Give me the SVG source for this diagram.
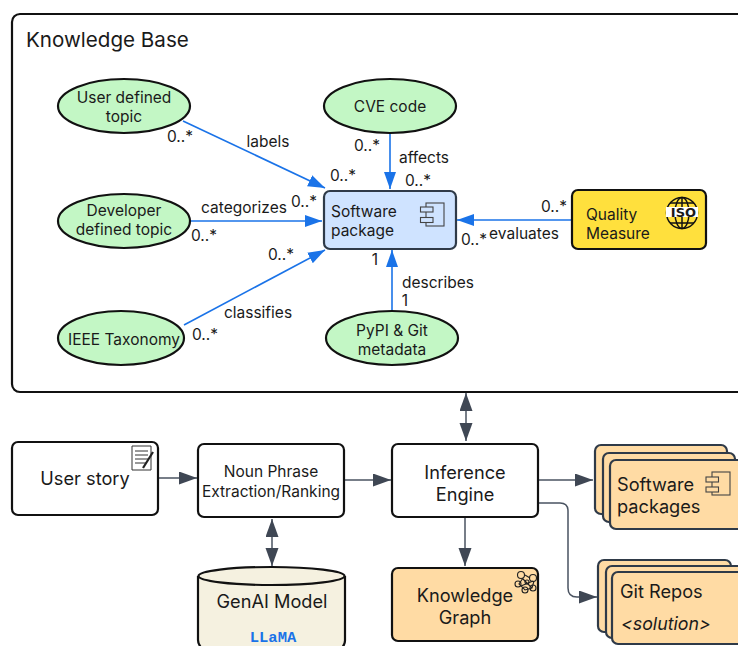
<svg xmlns="http://www.w3.org/2000/svg" width="738" height="646" viewBox="0 0 738 646">
<style>
text{font-family:Inter,"Liberation Sans",sans-serif;fill:#1a1a1a}
.m{text-anchor:middle}
.l{font-size:15.500px}
.n{font-size:15.500px}
.big{font-size:18.200px}
.box{stroke:#111;stroke-width:2.200px}
.ell{fill:#c3f7c5;stroke:#111;stroke-width:2.200px}
.b{fill:none;stroke:#1a73e8;stroke-width:1.600px}
.d{fill:none;stroke:#4a5361;stroke-width:1.500px}
.o{fill:#ffdba4;stroke:#2f3a48;stroke-width:2.200px}
.ic{fill:none;stroke:#444;stroke-width:1.100px}
</style>
<defs>
<marker id="ab" markerUnits="userSpaceOnUse" markerWidth="19" markerHeight="14" refX="17" refY="6" orient="auto-start-reverse"><path d="M0 0L17 6L0 12z" fill="#1a73e8"/></marker>
<marker id="ad" markerUnits="userSpaceOnUse" markerWidth="20" markerHeight="14" refX="18" refY="6.500" orient="auto-start-reverse"><path d="M0 0L18 6.500L0 13z" fill="#3f4754"/></marker>
</defs>
<g id="knowledge-base"><rect x="12" y="14" width="740" height="378" rx="8" fill="#fff" stroke="#111" stroke-width="2.200"/><text x="26" y="47" font-size="20.600">Knowledge Base</text></g>
<g id="connectors">
<path class="b" marker-end="url(#ab)" d="M183 121L325 188"/>
<path class="b" marker-end="url(#ab)" d="M190 221L322 221"/>
<path class="b" marker-end="url(#ab)" d="M184 325L325 250"/>
<path class="b" marker-end="url(#ab)" d="M390 133L390 189"/>
<path class="b" marker-end="url(#ab)" d="M392 310L392 250"/>
<path class="b" marker-end="url(#ab)" d="M571 220L457 220"/>
<path class="d" marker-end="url(#ad)" d="M159 478L197 478"/>
<path class="d" marker-end="url(#ad)" d="M345 480L391 480"/>
<path class="d" marker-start="url(#ad)" marker-end="url(#ad)" d="M272 519L272 566"/>
<path class="d" marker-start="url(#ad)" marker-end="url(#ad)" d="M466 393L466 441"/>
<path class="d" marker-end="url(#ad)" d="M465 518L465 566"/>
<path class="d" marker-end="url(#ad)" d="M539 480L593 480"/>
<path class="d" marker-end="url(#ad)" d="M539 503H560Q568 503 568 511V588Q568 597 577 597H597"/>
</g>
<g class="l">
<text x="180" y="142" class="m">0..*</text><text x="268" y="147" class="m">labels</text>
<text x="343" y="181" class="m">0..*</text><text x="304" y="207" class="m">0..*</text>
<text x="244" y="213" class="m">categorizes</text><text x="204" y="241" class="m">0..*</text>
<text x="281" y="260" class="m">0..*</text><text x="258" y="318" class="m">classifies</text>
<text x="205" y="340" class="m">0..*</text><text x="367" y="151" class="m">0..*</text>
<text x="424" y="163" class="m">affects</text><text x="418" y="186" class="m">0..*</text>
<text x="554" y="212" class="m">0..*</text><text x="474" y="245" class="m">0..*</text>
<text x="524" y="239" class="m">evaluates</text><text x="375" y="265" class="m">1</text>
<text x="438" y="288" class="m">describes</text><text x="405" y="306" class="m">1</text>
</g>
<g id="user-topic"><ellipse class="ell" cx="124" cy="106" rx="66" ry="27"/><text class="m n" x="124" y="103">User defined</text><text class="m n" x="124" y="122">topic</text></g>
<g id="cve"><ellipse class="ell" cx="390" cy="106" rx="66" ry="27"/><text class="m n" x="390" y="112">CVE code</text></g>
<g id="dev-topic"><ellipse class="ell" cx="124" cy="221" rx="66" ry="27"/><text class="m n" x="124" y="216">Developer</text><text class="m n" x="124" y="235">defined topic</text></g>
<g id="ieee"><ellipse class="ell" cx="121" cy="338" rx="63" ry="27"/><text class="m n" x="124" y="344.500">IEEE Taxonomy</text></g>
<g id="pypi"><ellipse class="ell" cx="392" cy="338" rx="66" ry="27"/><text class="m n" x="392" y="336">PyPI &amp; Git</text><text class="m n" x="392" y="355">metadata</text></g>
<g id="software-package"><rect x="324" y="191" width="132" height="58" rx="6" fill="#cfe3ff" stroke="#2f3a48" stroke-width="2.200"/><text class="n" x="331" y="217">Software</text><text class="n" x="331" y="236">package</text>
<g class="ic"><rect x="426" y="203" width="18" height="23"/><rect x="420.500" y="207" width="12.500" height="5" fill="#cfe3ff"/><rect x="420.500" y="217.500" width="12.500" height="5" fill="#cfe3ff"/></g></g>
<g id="quality"><rect x="572" y="190" width="134" height="59" rx="6" fill="#ffe03d" stroke="#111" stroke-width="2.200"/><text class="n" x="586" y="220">Quality</text><text class="n" x="586" y="239">Measure</text>
<g fill="none" stroke="#111" stroke-width="1.500"><circle cx="682" cy="213" r="15.500"/><ellipse cx="682" cy="213" rx="7" ry="15.500"/><path d="M682 197V229M670 203H694M670 223H694"/></g><rect x="666" y="207" width="32" height="10" fill="#fff"/><text x="683.500" y="217" class="m" style="font-family:'DejaVu Sans',sans-serif" font-size="13" font-weight="700" fill="#111">ISO</text></g>
<g id="user-story"><rect class="box" x="12" y="442" width="146" height="73" rx="6" fill="#fff"/><text class="m big" x="85" y="485">User story</text>
<g fill="#fff" stroke="#333" stroke-width="1"><path d="M132 446H151V470H132z"/><path d="M135 451H148M135 455H148M135 459H148M135 463H146"/></g><path d="M143 468L153 452" stroke="#222" stroke-width="2.200"/></g>
<g id="noun-phrase"><rect class="box" x="198" y="444" width="146" height="73" rx="6" fill="#fff"/><text class="m n" x="271" y="477">Noun Phrase</text><text class="m n" x="271" y="496.500">Extraction/Ranking</text></g>
<g id="genai"><path d="M198 576V640Q198 660 272 660T345 640V576" fill="#f5f1e0" stroke="#111" stroke-width="2.200"/><ellipse cx="271.500" cy="576" rx="73" ry="9" fill="#f5f1e0" stroke="#111" stroke-width="2.200"/><text class="m big" x="272" y="608">GenAI Model</text><text class="m" x="273" y="642" font-size="15.500" font-weight="700" style="font-family:'Liberation Mono',monospace;fill:#1a73e8">LLaMA</text></g>
<g id="inference"><rect class="box" x="392" y="444" width="146" height="73" rx="6" fill="#fff"/><text class="m big" x="465" y="478.500">Inference</text><text class="m big" x="465" y="500.500">Engine</text></g>
<g id="knowledge-graph"><rect class="o" x="392" y="568" width="146" height="73" rx="6" style="stroke:#111"/><text class="m big" x="465" y="602">Knowledge</text><text class="m big" x="465" y="623.500">Graph</text>
<g transform="translate(1 1)" fill="none" stroke="#222" stroke-width="1.100"><circle cx="520" cy="574" r="3.500"/><circle cx="532" cy="577" r="3.500"/><circle cx="517" cy="583" r="3"/><circle cx="532" cy="587" r="3"/><circle cx="524" cy="589" r="3"/><circle cx="526" cy="581" r="2"/><path d="M522 577L518 583L524 589L531 587L533 580M524 574L529 577M522 578L531 587M532 580L520 585"/></g></g>
<g id="software-packages"><rect class="o" x="595" y="445" width="132" height="69" rx="6"/><rect class="o" x="603" y="453" width="132" height="69" rx="6"/><rect class="o" x="610" y="460" width="140" height="69" rx="6"/><text class="big" x="617" y="491">Software</text><text class="big" x="617" y="512.500">packages</text>
<g class="ic"><rect x="712" y="472" width="18" height="23"/><rect x="706" y="477" width="12.500" height="5" fill="#ffdba4"/><rect x="706" y="487" width="12.500" height="5" fill="#ffdba4"/></g></g>
<g id="git-repos"><rect class="o" x="598" y="560" width="133" height="72" rx="6"/><rect class="o" x="606" y="566" width="140" height="72" rx="6"/><rect class="o" x="612" y="572" width="140" height="72" rx="6"/><text class="big" x="620" y="598">Git Repos</text><text x="621" y="630" font-size="17.800" font-style="italic">&lt;solution&gt;</text></g>
</svg>
